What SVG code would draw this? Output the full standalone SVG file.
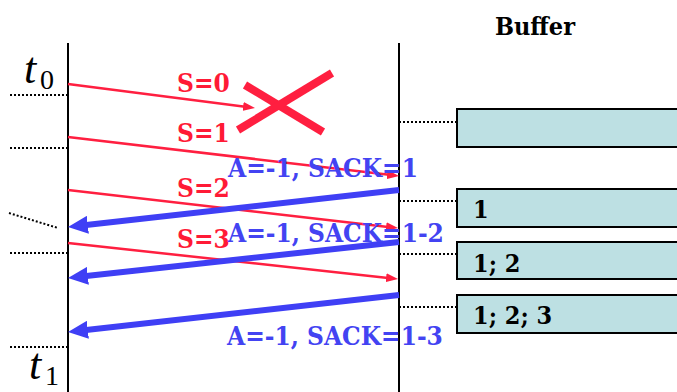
<svg xmlns="http://www.w3.org/2000/svg" width="677" height="392" viewBox="0 0 677 392">
<style>
.axis{stroke:#000;stroke-width:2;fill:none}
.dot{stroke:#000;stroke-width:2;stroke-dasharray:2 2;fill:none}
.red{stroke:#ff1f40;stroke-width:2.5;fill:none}
.blue{stroke:#3f3ff5;stroke-width:6;fill:none}
.cross{stroke:#ff1f40;stroke-width:8;fill:none}
.lr{font-family:"DejaVu Serif Condensed","DejaVu Serif",serif;font-stretch:condensed;font-weight:bold;font-size:26px;fill:#ff1a36}
.lb{font-family:"DejaVu Serif Condensed","DejaVu Serif",serif;font-stretch:condensed;font-weight:bold;font-size:26px;fill:#4343f2}
.buf{fill:#bde0e3;stroke:#000;stroke-width:2}
.bt{font-family:"DejaVu Serif Condensed","DejaVu Serif",serif;font-stretch:condensed;font-weight:bold;font-size:25px;fill:#000}
.tt{font-family:"Liberation Serif",serif;font-style:italic;font-size:44px;fill:#000}
.ts{font-family:"Liberation Serif",serif;font-size:28px;fill:#000}
</style>
<defs>
<marker id="ar" markerUnits="userSpaceOnUse" markerWidth="12" markerHeight="9" refX="2" refY="4.5" orient="auto"><path d="M0,0 L12,4.5 L0,9 z" fill="#ff1f40"/></marker>
<marker id="ab" markerUnits="userSpaceOnUse" markerWidth="20" markerHeight="18" refX="4" refY="9" orient="auto"><path d="M0,0 L20,9 L0,18 z" fill="#3f3ff5"/></marker>
</defs>
<rect width="677" height="392" fill="#fff"/>
<g id="sender">
<line class="axis" x1="68" y1="43" x2="68" y2="392"/>
<text class="tt" x="24" y="83">t</text><text class="ts" x="40" y="89">0</text>
<text class="tt" x="29" y="379">t</text><text class="ts" x="45" y="385">1</text>
</g>
<g id="receiver">
<line class="axis" x1="399" y1="43" x2="399" y2="392"/>
</g>
<g id="timemarks">
<line class="dot" x1="10" y1="95" x2="68" y2="95"/>
<line class="dot" x1="10" y1="148" x2="68" y2="148"/>
<line class="dot" x1="9" y1="213" x2="58" y2="228"/>
<line class="dot" x1="10" y1="253" x2="68" y2="253"/>
<line class="dot" x1="10" y1="347" x2="68" y2="347"/>
<line class="dot" x1="399" y1="122" x2="457" y2="122"/>
<line class="dot" x1="399" y1="201" x2="457" y2="201"/>
<line class="dot" x1="399" y1="254" x2="457" y2="254"/>
<line class="dot" x1="399" y1="307" x2="457" y2="307"/>
</g>
<g id="buffer">
<text class="bt" x="535" y="35" text-anchor="middle" font-size="26">Buffer</text>
<rect id="buf0" class="buf" x="457" y="109" width="230" height="38"/>
<g id="buf1"><rect class="buf" x="457" y="189" width="230" height="38"/><text class="bt" x="473" y="218">1</text></g>
<g id="buf2"><rect class="buf" x="457" y="242" width="230" height="37"/><text class="bt" x="473" y="272">1; 2</text></g>
<g id="buf3"><rect class="buf" x="457" y="295" width="230" height="38"/><text class="bt" x="473" y="324">1; 2; 3</text></g>
</g>
<g id="connectors">
<line class="red" x1="68" y1="84" x2="245.1" y2="106.7" marker-end="url(#ar)"/>
<line class="red" x1="68" y1="137" x2="389.1" y2="174.8" marker-end="url(#ar)"/>
<line class="red" x1="68" y1="190" x2="388.1" y2="226.9" marker-end="url(#ar)"/>
<line class="red" x1="68" y1="243" x2="388.1" y2="277.9" marker-end="url(#ar)"/>
<line class="cross" x1="245" y1="85" x2="323" y2="132"/>
<line class="cross" x1="332" y1="73" x2="238" y2="130"/>
<line class="blue" x1="399" y1="190" x2="83.9" y2="225.2" marker-end="url(#ab)"/>
<line class="blue" x1="399" y1="242" x2="83.9" y2="276.3" marker-end="url(#ab)"/>
<line class="blue" x1="399" y1="295" x2="83.9" y2="330.2" marker-end="url(#ab)"/>
</g>
<g id="labels">
<text class="lr" x="177" y="92">S=0</text>
<text class="lr" x="177" y="142">S=1</text>
<text class="lr" x="177" y="197">S=2</text>
<text class="lr" x="177" y="248">S=3</text>
<text class="lb" x="228" y="177">A=-1, SACK=1</text>
<text class="lb" x="228" y="242">A=-1, SACK=1-2</text>
<text class="lb" x="227" y="345">A=-1, SACK=1-3</text>
</g>
</svg>
